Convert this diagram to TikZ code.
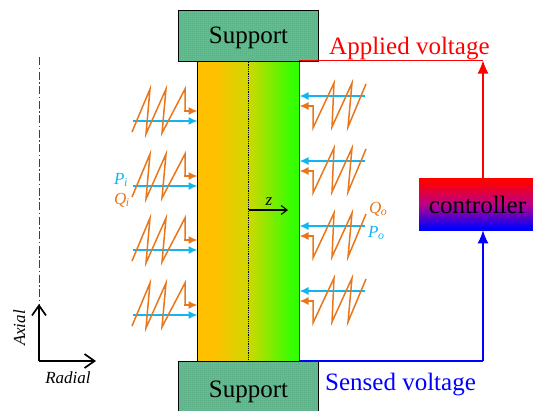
\documentclass[tikz,border=0pt]{standalone}
\usepackage{fontspec}
\setmainfont{Liberation Serif}
\usetikzlibrary{arrows.meta,patterns,shadings}
\definecolor{orangeq}{HTML}{E9761A}
\definecolor{bluep}{HTML}{14B4EE}
\definecolor{supp}{HTML}{62BC90}
\definecolor{colL}{HTML}{FFC000}
\definecolor{colM}{HTML}{CFD800}
\definecolor{colR}{HTML}{33FF00}
\definecolor{ctrlM}{HTML}{BB0088}
\definecolor{sigred}{HTML}{FF0000}
\definecolor{sigblue}{HTML}{0000FF}
\pgfdeclarehorizontalshading{colshade}{100bp}{color(0bp)=(colL); color(33bp)=(colL); color(50bp)=(colM); color(72bp)=(colR); color(100bp)=(colR)}
\pgfdeclareverticalshading{ctrlshade}{100bp}{color(0bp)=(sigblue); color(27bp)=(sigblue); color(50bp)=(ctrlM); color(72bp)=(sigred); color(100bp)=(sigred)}
\pgfdeclarepatternformonly{finedots}{\pgfqpoint{0pt}{0pt}}{\pgfqpoint{2pt}{2pt}}{\pgfqpoint{2pt}{2pt}}{\pgfpathrectangle{\pgfqpoint{0pt}{0pt}}{\pgfqpoint{.7pt}{.7pt}}\pgfusepath{fill}}
\tikzset{
 x=1pt,y=-1pt,
 support/.style={draw=black,line width=1.2pt,fill=supp,postaction={pattern=finedots,pattern color=black!55!supp},minimum width=140pt,inner sep=0pt},
 bigtext/.style={font=\fontsize{25}{25}\selectfont,inner sep=0pt},
 smalllab/.style={font=\fontsize{17}{17}\selectfont\itshape,inner sep=0pt},
 zig/.style={draw=orangeq,line width=1.5pt,line join=miter},
 qarrow/.style={draw=orangeq,fill=orangeq,line width=1.5pt,-{Latex[length=9pt,width=8pt]}},
 parrow/.style={draw=bluep,fill=bluep,line width=1.5pt,-{Latex[length=9pt,width=8pt]}},
 axisarrow/.style={draw=black,line width=1.7pt,-{Straight Barb[length=10pt,width=14pt,line width=1.7pt]}},
 ctrlarrow/.style={line width=1.2pt,-{Latex[length=13pt,width=11pt]}},
 sigline/.style={line width=1.2pt},
}
\begin{document}
\begin{tikzpicture}
\useasboundingbox (0,0) rectangle (533,410);
% column
\node[anchor=north west,inner sep=0pt,minimum width=101.5pt,minimum height=301pt,shading=colshade] (col) at (197.5,60) {};
\draw[draw=black,line width=1.2pt] (col.north west) -- (col.south west);
\draw[draw=black!60!colR,line width=1.2pt] (col.north east) -- (col.south east);
\coordinate (midT) at (248.5,60);
\coordinate (midB) at (248.5,361);
\draw[draw=black,line width=.8pt,densely dotted] (midT) -- (midB);
% supports
\node[support,anchor=north west,minimum height=51pt] (topS) at (178,9.5) {};
\node[support,anchor=north west,minimum height=52pt] (botS) at (178,361) {};
\node[bigtext,anchor=base] (topT) at (248.5,43) {Support};
\node[bigtext,anchor=base] (botT) at (248.5,397) {Support};
% controller
\node[anchor=north west,minimum width=114pt,minimum height=52pt,inner sep=0pt,shading=ctrlshade] (ctrl) at (419,178) {};
\node[bigtext,anchor=base] (ctrlT) at (477.5,213) {controller};
% voltage lines
\coordinate (redC) at (483,60.5);
\coordinate (bluC) at (483,361);
\draw[draw=sigred,sigline] (299,60.5) -- (redC);
\draw[draw=sigblue,sigline] (299,361) -- (bluC);
\draw[draw=sigred,fill=sigred,ctrlarrow] (ctrl.north -| redC) -- (redC);
\draw[draw=sigblue,fill=sigblue,ctrlarrow] (bluC) -- (ctrl.south -| bluC);
\node[bigtext,text=sigred,anchor=base west] (app) at (329,54) {Applied voltage};
\node[bigtext,text=sigblue,anchor=base west] (sens) at (325,390) {Sensed voltage};
% left flows
\foreach \d in {0,65,129,194}{
 \begin{scope}[yshift=-\d pt]
 \draw[parrow] (133,121) -- (197.5,121);
 \draw[zig] (132,132) -- (150,89) -- (146,134) -- (166,89) -- (162,133) -- (185,89) -- (185,111);
 \draw[qarrow] (184.3,111) -- (197.5,111);
 \end{scope}
}
% right flows
\foreach \d in {0,65,130,195}{
 \begin{scope}[yshift=-\d pt]
 \draw[parrow] (365,96) -- (299.5,96);
 \draw[zig] (366,84) -- (348,127) -- (352,83) -- (332,127) -- (334,83) -- (313,128) -- (313,106);
 \draw[qarrow] (313.7,106) -- (299.5,106);
 \end{scope}
}
% labels
\node[smalllab,text=bluep,anchor=base west] (pi) at (114,184) {P\textsubscript{\kern-.5pt i}};
\node[smalllab,text=orangeq,anchor=base west] (qi) at (114,204) {Q\textsubscript{\kern-.5pt i}};
\node[smalllab,text=orangeq,anchor=base west] (qo) at (369,213) {Q\textsubscript{\kern-.5pt o}};
\node[smalllab,text=bluep,anchor=base west] (po) at (368,237) {P\textsubscript{\kern-.5pt o}};
% z arrow
\node[smalllab,anchor=base] (zl) at (269,205) {z};
\coordinate (zs) at (248.5,210);
\coordinate (ze) at (288,210);
\draw[draw=black,line width=1.1pt,-{Straight Barb[length=6pt,width=9pt]}] (zs) -- (ze);
% axes
\coordinate (axO) at (39,361);
\coordinate (axT) at (39,304);
\coordinate (axR) at (96,361);
\coordinate (axTop) at (39,57);
\draw[draw=black!75,line width=.8pt,dash pattern=on 8pt off 2.5pt on 1.5pt off 2.5pt] (axTop) -- (axT);
\draw[axisarrow] (axO) -- (axT);
\draw[axisarrow] (axO) -- (axR);
\node[smalllab,rotate=90,anchor=base] (axl) at (25,328) {Axial};
\node[smalllab,anchor=base] (radl) at (68,383) {Radial};
\end{tikzpicture}
\end{document}
